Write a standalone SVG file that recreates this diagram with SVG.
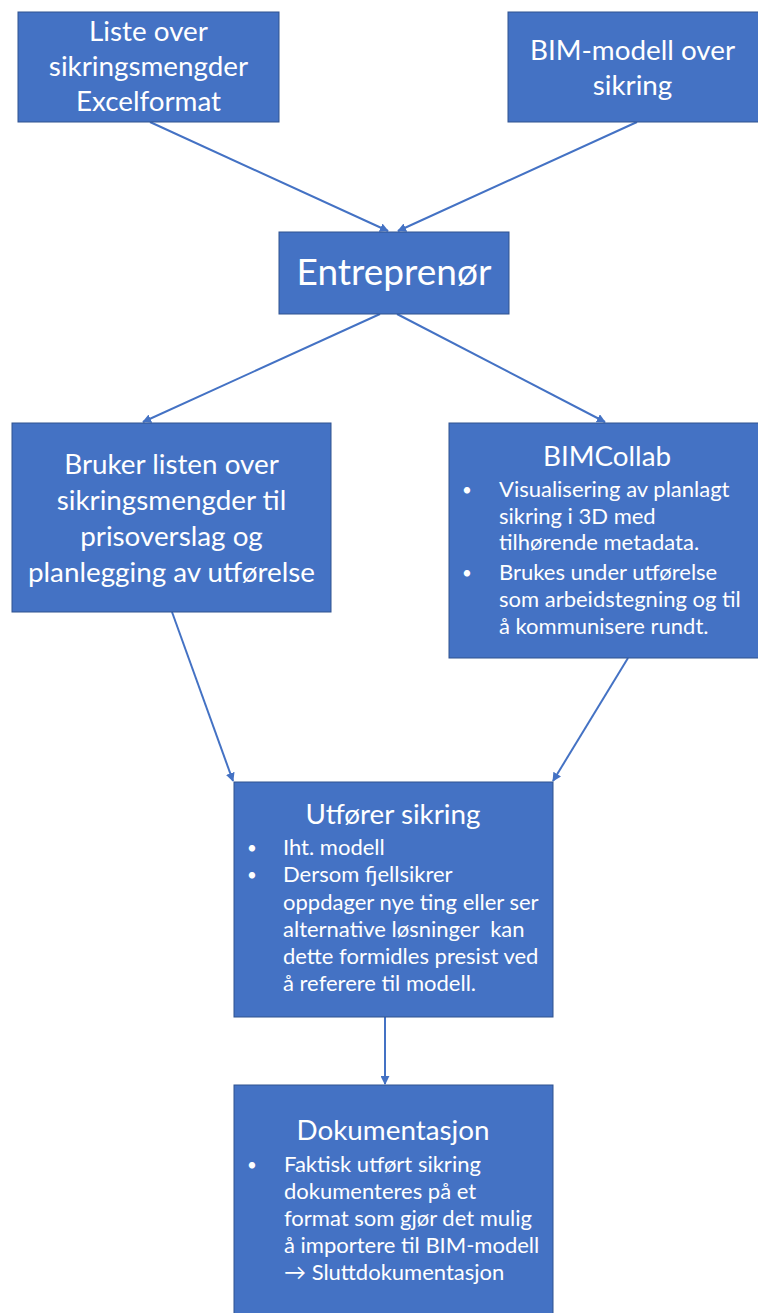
<svg xmlns="http://www.w3.org/2000/svg" width="758" height="1313" viewBox="0 0 758 1313">
  <style>
    .box { fill: #4472C4; stroke: #2F528F; stroke-width: 1; }
    .t { fill: #FFFFFF; font-family: "Lato", "Liberation Sans", sans-serif; white-space: pre; }
    .big { font-size: 27.8px; text-anchor: middle; }
    .huge { font-size: 37px; text-anchor: middle; }
    .small { font-size: 22px; }
    .dot { font-size: 17px; }
    .conn { stroke: #4472C4; stroke-width: 2; fill: none; marker-end: url(#arrow); }
  </style>
  <defs>
    <marker id="arrow" viewBox="0 0 10 10" refX="9" refY="5" markerWidth="4.5" markerHeight="4.5" orient="auto" markerUnits="strokeWidth">
      <path d="M0,0 L10,5 L0,10 z" fill="#4472C4"/>
    </marker>
  </defs>

  <!-- connectors -->
  <g id="connectors">
    <line class="conn" x1="150" y1="122" x2="388" y2="231"/>
    <line class="conn" x1="637" y1="122" x2="398" y2="231"/>
    <line class="conn" x1="380" y1="314" x2="143" y2="422"/>
    <line class="conn" x1="397" y1="314" x2="605" y2="422"/>
    <line class="conn" x1="172" y1="612" x2="233" y2="781"/>
    <line class="conn" x1="628" y1="658" x2="553" y2="781"/>
    <line class="conn" x1="385" y1="1017" x2="385" y2="1084"/>
  </g>

  <!-- source: quantity list -->
  <g id="liste">
    <rect class="box" x="18" y="12" width="261" height="110"/>
    <text class="t big" x="148.5" y="41">Liste over</text>
    <text class="t big" x="148.5" y="76">sikringsmengder</text>
    <text class="t big" x="148.5" y="111">Excelformat</text>
  </g>

  <!-- source: BIM model -->
  <g id="bim-modell">
    <rect class="box" x="508" y="12" width="260" height="110"/>
    <text class="t big" x="632.5" y="60">BIM-modell over</text>
    <text class="t big" x="632.5" y="95">sikring</text>
  </g>

  <!-- contractor -->
  <g id="entreprenor">
    <rect class="box" x="279" y="232" width="230" height="82"/>
    <text class="t huge" x="394" y="285">Entreprenør</text>
  </g>

  <!-- use of quantity list -->
  <g id="bruker">
    <rect class="box" x="12" y="423" width="319" height="189"/>
    <text class="t big" x="171.5" y="474">Bruker listen over</text>
    <text class="t big" x="171.5" y="510">sikringsmengder til</text>
    <text class="t big" x="171.5" y="546">prisoverslag og</text>
    <text class="t big" x="171.5" y="582">planlegging av utførelse</text>
  </g>

  <!-- BIMCollab -->
  <g id="bimcollab">
    <rect class="box" x="449" y="423" width="319" height="235"/>
    <text class="t big" x="607" y="466">BIMCollab</text>
    <text class="t dot" x="462" y="496">•</text>
    <text class="t small" x="499" y="497">Visualisering av planlagt</text>
    <text class="t small" x="499" y="524">sikring i 3D med</text>
    <text class="t small" x="499" y="550">tilhørende metadata.</text>
    <text class="t dot" x="462" y="579">•</text>
    <text class="t small" x="499" y="580">Brukes under utførelse</text>
    <text class="t small" x="499" y="607">som arbeidstegning og til</text>
    <text class="t small" x="499" y="634">å kommunisere rundt.</text>
  </g>

  <!-- execution -->
  <g id="utforer">
    <rect class="box" x="234" y="782" width="319" height="235"/>
    <text class="t big" x="393" y="824">Utfører sikring</text>
    <text class="t dot" x="247" y="854">•</text>
    <text class="t small" x="283" y="855">Iht. modell</text>
    <text class="t dot" x="247" y="881">•</text>
    <text class="t small" x="283" y="882">Dersom fjellsikrer</text>
    <text class="t small" x="283" y="910">oppdager nye ting eller ser</text>
    <text class="t small" x="283" y="937">alternative løsninger  kan</text>
    <text class="t small" x="283" y="964">dette formidles presist ved</text>
    <text class="t small" x="283" y="991">å referere til modell.</text>
  </g>

  <!-- documentation -->
  <g id="dokumentasjon">
    <rect class="box" x="234" y="1085" width="319" height="240"/>
    <text class="t big" x="393" y="1140">Dokumentasjon</text>
    <text class="t dot" x="247" y="1171">•</text>
    <text class="t small" x="284" y="1172">Faktisk utført sikring</text>
    <text class="t small" x="284" y="1199">dokumenteres på et</text>
    <text class="t small" x="284" y="1226">format som gjør det mulig</text>
    <text class="t small" x="284" y="1253">å importere til BIM-modell</text>
    <text class="t small" x="284" y="1280">→ Sluttdokumentasjon</text>
  </g>
</svg>
